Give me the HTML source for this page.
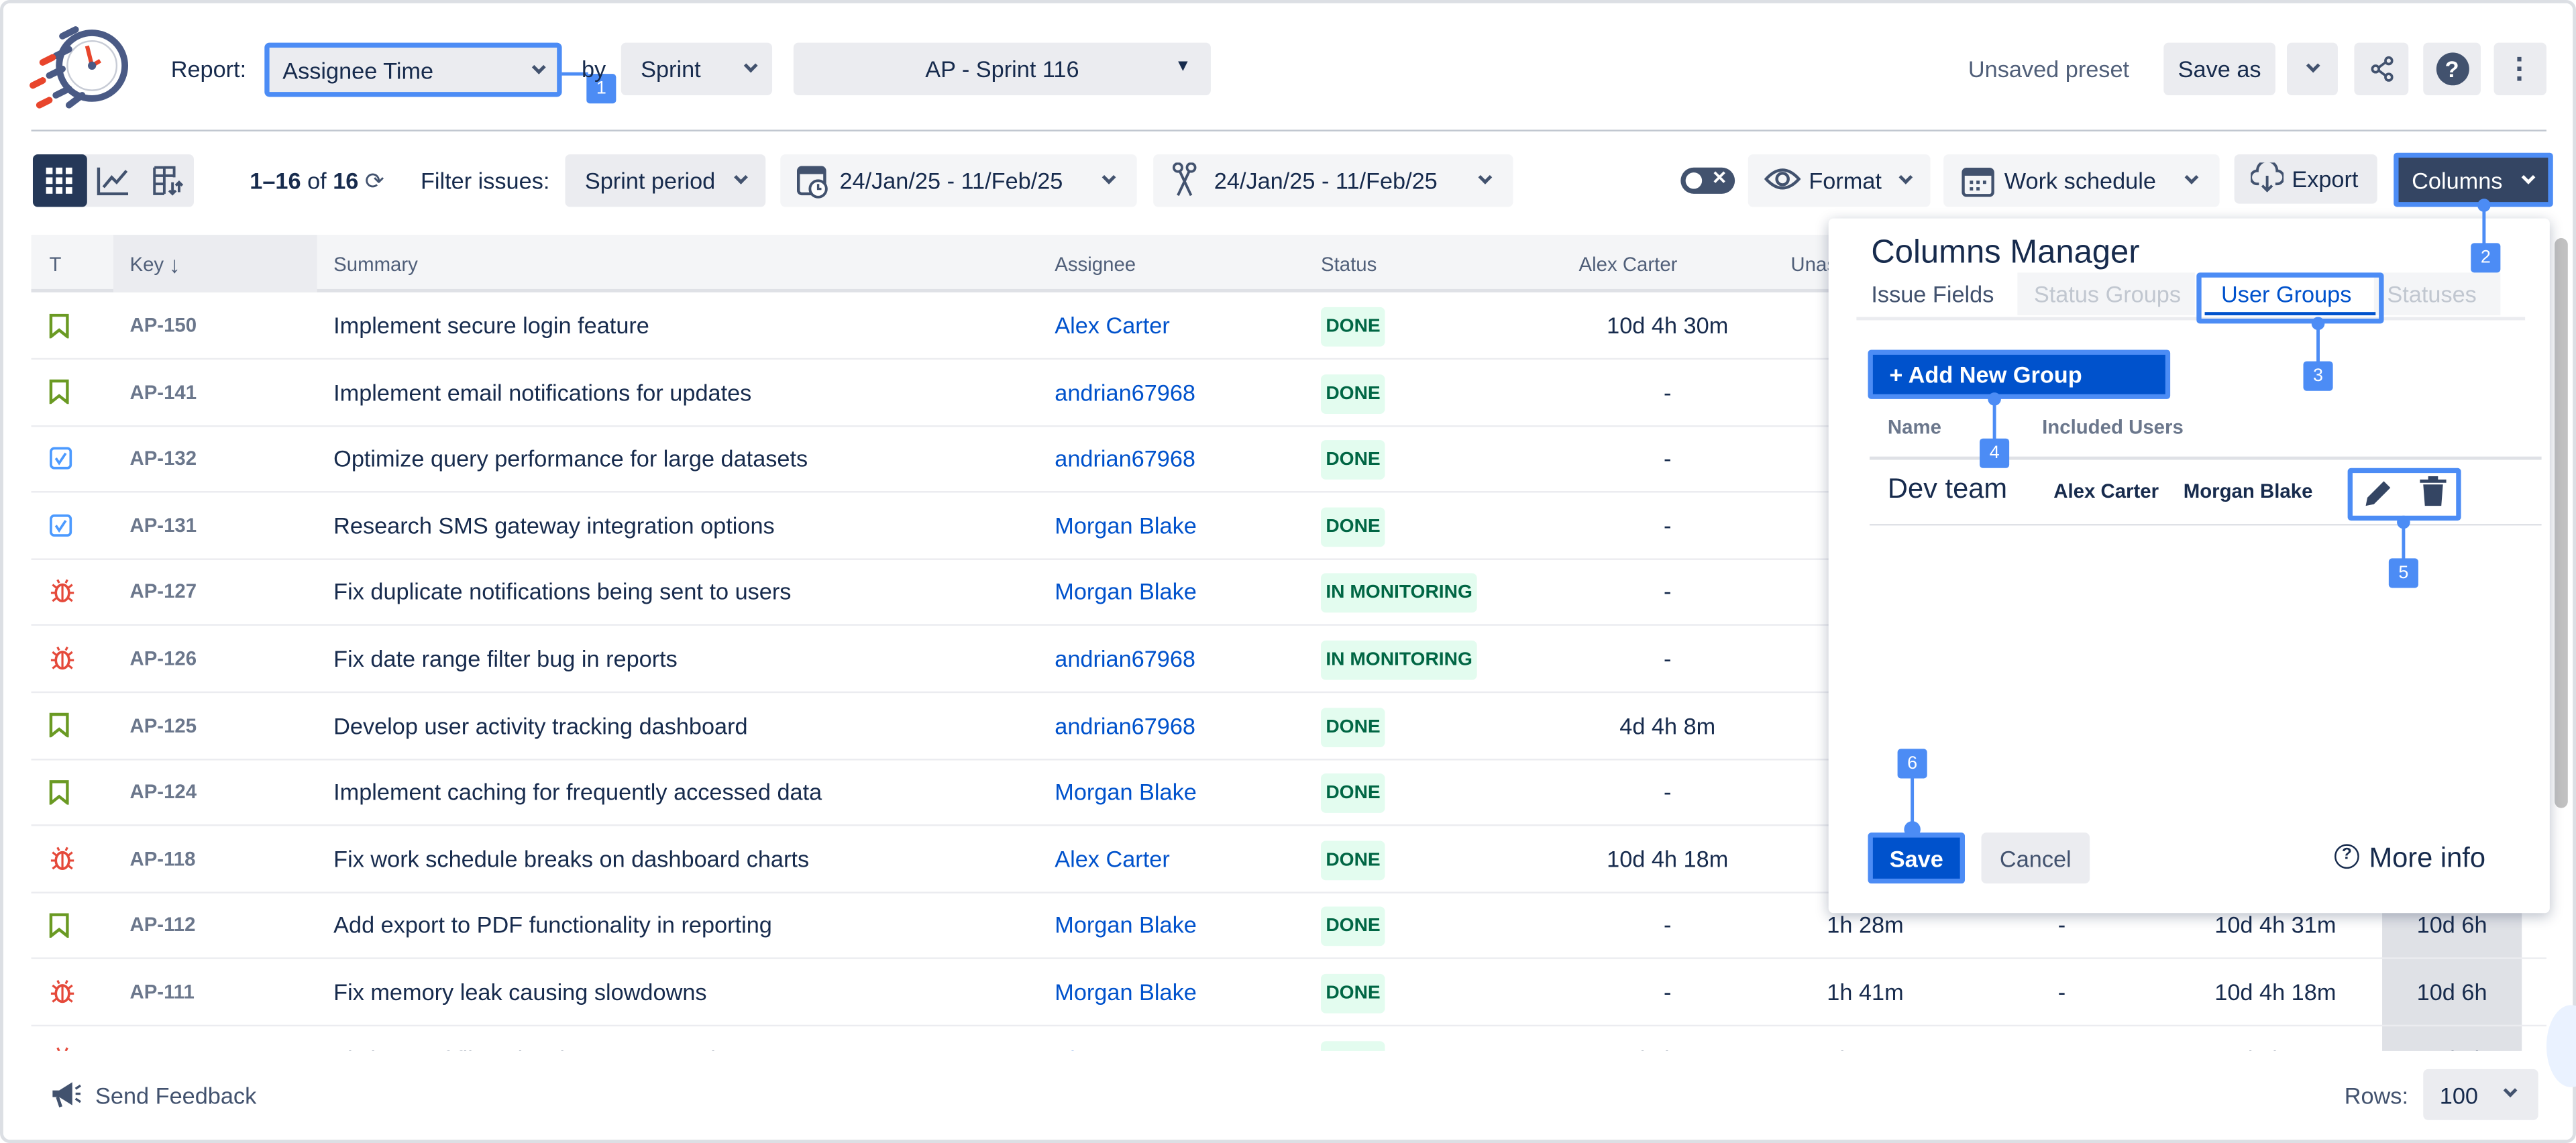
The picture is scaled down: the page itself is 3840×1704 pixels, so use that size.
<!DOCTYPE html>
<html><head><meta charset="utf-8">
<style>
*{box-sizing:border-box;margin:0;padding:0}
html,body{width:3840px;height:1704px;overflow:hidden;background:#fff}
#w{position:absolute;left:0;top:0;width:1568px;height:696px;transform:scale(2.449,2.4483);transform-origin:0 0;font-family:"Liberation Sans",Arial,sans-serif;color:#172b4d;background:#fff}
.a{position:absolute}
.frame{left:0;top:0;width:1568px;height:696px;border:2px solid #dcdfe4;border-radius:6px}
.btn{position:absolute;background:#ebecf0;border-radius:3px;font-size:14px;display:flex;align-items:center;color:#172b4d}
.chev{display:inline-block;width:6px;height:6px;border-right:2px solid #42526e;border-bottom:2px solid #42526e;transform:rotate(45deg);margin-top:-4px}
.btn .chev[style],.a .chev[style]{margin-top:0}
.badge{position:absolute;width:18px;height:18px;background:#4c8cf5;color:#fff;font-size:11px;display:flex;align-items:center;justify-content:center;border-radius:2px}
.vl{position:absolute;width:2px;background:#4c8cf5}
.dot{position:absolute;width:8px;height:8px;border-radius:50%;background:#4c8cf5}
.hl{position:absolute;border:3px solid #4c8cf5;border-radius:2px}
.th{position:absolute;top:143px;height:35px;font-size:12px;color:#505f79;display:flex;align-items:center}
.row{position:absolute;left:19px;width:1531px;height:41px;border-bottom:1px solid #ebecf0}
.row div{position:absolute;top:0;height:40px;display:flex;align-items:center;font-size:14px;white-space:nowrap}
.k{font-size:12px!important;font-weight:bold;color:#6b778c}
.as{color:#0052cc}
.loz{font-size:11.5px!important;font-weight:bold;color:#006644;background:#e3fcef;padding:5px 3px;border-radius:3px;height:auto!important;top:9px!important;line-height:14px}
.c{justify-content:center}
</style></head><body><div id="w">
<div class="a frame"></div>

<svg class="a" style="left:14px;top:14px" width="70" height="60" viewBox="0 0 70 60">
<circle cx="42" cy="26" r="20" fill="none" stroke="#4a5a85" stroke-width="4"/>
<circle cx="42" cy="26" r="15" fill="#fff" stroke="#c8ccd6" stroke-width="1"/>
<line x1="42" y1="26" x2="39" y2="14" stroke="#e8452c" stroke-width="2.5"/>
<line x1="42" y1="26" x2="47" y2="23" stroke="#e8452c" stroke-width="2.5"/>
<circle cx="42" cy="26" r="2.5" fill="#4a5a85"/>
<path d="M24 8 L32 4 M20 20 L28 16 M16 32 L24 28 M20 44 L28 40 M28 50 L36 44" stroke="#4a5a85" stroke-width="4" stroke-linecap="round"/>
<path d="M12 24 L18 21 M6 38 L12 35 M10 50 L16 47" stroke="#e8452c" stroke-width="4" stroke-linecap="round"/>
</svg>

<div class="a" style="left:104px;top:34px;font-size:14px">Report:</div>
<div class="btn" style="left:161px;top:26px;width:181px;height:33px;border:3px solid #4c8cf5;padding-left:8px">Assignee Time<span class="chev" style="position:absolute;right:8px;top:9px"></span></div>
<div class="vl" style="left:342px;top:44px;width:16px;height:2px"></div>
<div class="badge" style="left:357px;top:45px">1</div>
<div class="a" style="left:354px;top:34px;font-size:14px">by</div>
<div class="btn" style="left:378px;top:26px;width:92px;height:32px;padding-left:12px">Sprint<span class="chev" style="position:absolute;right:10px;top:11px"></span></div>
<div class="btn" style="left:483px;top:26px;width:254px;height:32px;justify-content:center">AP - Sprint 116<span style="position:absolute;right:12px;top:9px;font-size:10px">▼</span></div>

<div class="a" style="left:1198px;top:34px;font-size:14px;color:#505f79">Unsaved preset</div>
<div class="btn" style="left:1317px;top:26px;width:68px;height:32px;justify-content:center">Save as</div>
<div class="btn" style="left:1392px;top:26px;width:31px;height:32px;justify-content:center"><span class="chev"></span></div>
<div class="btn" style="left:1433px;top:26px;width:33px;height:32px;justify-content:center">
<svg width="16" height="16" viewBox="0 0 16 16"><circle cx="12" cy="3" r="2" fill="none" stroke="#42526e" stroke-width="1.5"/><circle cx="4" cy="8" r="2" fill="none" stroke="#42526e" stroke-width="1.5"/><circle cx="12" cy="13" r="2" fill="none" stroke="#42526e" stroke-width="1.5"/><path d="M6 7 L10 4 M6 9 L10 12" stroke="#42526e" stroke-width="1.5"/></svg></div>
<div class="btn" style="left:1475px;top:26px;width:35px;height:32px;justify-content:center"><span style="width:20px;height:20px;border-radius:50%;background:#42526e;color:#fff;font-weight:bold;font-size:14px;display:flex;align-items:center;justify-content:center">?</span></div>
<div class="btn" style="left:1518px;top:26px;width:32px;height:32px;justify-content:center;font-weight:bold;font-size:18px;color:#42526e;line-height:6px;flex-direction:column">·<br>·<br>·</div>

<div class="a" style="left:19px;top:79px;width:1531px;height:1px;background:#c1c7d0"></div>

<div class="btn" style="left:20px;top:94px;width:98px;height:32px"></div>
<div class="a" style="left:20px;top:94px;width:33px;height:32px;background:#253858;border-radius:3px"></div>
<svg class="a" style="left:28px;top:102px" width="16" height="16"><g fill="#fff"><rect x="0" y="0" width="4" height="4"/><rect x="6" y="0" width="4" height="4"/><rect x="12" y="0" width="4" height="4"/><rect x="0" y="6" width="4" height="4"/><rect x="6" y="6" width="4" height="4"/><rect x="12" y="6" width="4" height="4"/><rect x="0" y="12" width="4" height="4"/><rect x="6" y="12" width="4" height="4"/><rect x="12" y="12" width="4" height="4"/></g></svg>
<svg class="a" style="left:59px;top:101px" width="20" height="18"><path d="M1 1 V17 H19 M4 13 L9 7 L12 10 L18 3" fill="none" stroke="#42526e" stroke-width="1.8"/></svg>
<svg class="a" style="left:92px;top:100px" width="20" height="20"><path d="M2 2 H14 V8 M2 2 V18 H8 M2 7 H14 M2 12 H8 M8 2 V18 M13 11 V18 M11 16 L13 18 L15 16 M17 17 V11 M15 13 L17 11 L19 13" fill="none" stroke="#42526e" stroke-width="1.6"/></svg>
<div class="a" style="left:152px;top:102px;font-size:14px"><b>1–16</b> of <b>16</b> <span style="color:#42526e">⟳</span></div>
<div class="a" style="left:256px;top:102px;font-size:14px">Filter issues:</div>
<div class="btn" style="left:344px;top:94px;width:122px;height:32px;padding-left:12px">Sprint period<span class="chev" style="position:absolute;right:12px;top:11px"></span></div>
<div class="btn" style="left:475px;top:94px;width:217px;height:32px;padding-left:36px;background:#f4f5f7">24/Jan/25 - 11/Feb/25<span class="chev" style="position:absolute;right:14px;top:11px"></span></div>
<svg class="a" style="left:485px;top:99px" width="20" height="22"><rect x="1" y="3" width="16" height="16" rx="2" fill="none" stroke="#42526e" stroke-width="1.8"/><rect x="1" y="3" width="16" height="4" fill="#42526e"/><circle cx="13" cy="16" r="5" fill="#fff" stroke="#42526e" stroke-width="1.6"/><path d="M13 13 V16 H15" stroke="#42526e" stroke-width="1.4" fill="none"/></svg>
<div class="btn" style="left:702px;top:94px;width:219px;height:32px;padding-left:37px;background:#f4f5f7">24/Jan/25 - 11/Feb/25<span class="chev" style="position:absolute;right:14px;top:11px"></span></div>
<svg class="a" style="left:713px;top:99px" width="16" height="22"><circle cx="4" cy="3" r="2.5" fill="none" stroke="#42526e" stroke-width="1.5"/><circle cx="12" cy="3" r="2.5" fill="none" stroke="#42526e" stroke-width="1.5"/><path d="M5 5 L12 20 M11 5 L4 20" stroke="#42526e" stroke-width="1.6"/></svg>

<div class="a" style="left:1023px;top:102px;width:33px;height:16px;border-radius:8px;background:#42526e"></div>
<div class="a" style="left:1026px;top:105px;width:10px;height:10px;border-radius:50%;background:#fff"></div>
<div class="a" style="left:1042px;top:102px;font-size:11px;color:#fff;font-weight:bold">✕</div>
<div class="btn" style="left:1064px;top:94px;width:111px;height:32px;padding-left:37px;background:#f4f5f7">Format<span class="chev" style="position:absolute;right:12px;top:11px"></span></div>
<svg class="a" style="left:1074px;top:101px" width="22" height="16"><path d="M1 8 Q11 -3 21 8 Q11 19 1 8Z" fill="none" stroke="#42526e" stroke-width="1.8"/><circle cx="11" cy="8" r="3.5" fill="none" stroke="#42526e" stroke-width="1.8"/></svg>
<div class="btn" style="left:1183px;top:94px;width:168px;height:32px;padding-left:37px;background:#f4f5f7">Work schedule<span class="chev" style="position:absolute;right:14px;top:11px"></span></div>
<svg class="a" style="left:1194px;top:100px" width="20" height="20"><rect x="1" y="3" width="18" height="16" rx="2" fill="none" stroke="#42526e" stroke-width="1.8"/><rect x="1" y="3" width="18" height="4" fill="#42526e"/><g fill="#42526e"><rect x="5" y="10" width="2" height="2"/><rect x="9" y="10" width="2" height="2"/><rect x="13" y="10" width="2" height="2"/><rect x="5" y="14" width="2" height="2"/><rect x="9" y="14" width="2" height="2"/></g></svg>
<div class="btn" style="left:1360px;top:94px;width:87px;height:30px;padding-left:35px">Export</div>
<svg class="a" style="left:1370px;top:99px" width="20" height="18"><path d="M5 13 H4 A4 4 0 0 1 4 5 A6 6 0 0 1 16 5 A4 4 0 0 1 16 13 H15 M10 8 V17 M7 14 L10 17 L13 14" fill="none" stroke="#42526e" stroke-width="1.6"/></svg>
<div class="a" style="left:1457px;top:93px;width:97px;height:33px;background:#344563;border:3px solid #4c8cf5;border-radius:2px;color:#fff;font-size:14px;display:flex;align-items:center;padding-left:8px">Columns<span class="chev" style="position:absolute;right:9px;top:9px;border-color:#fff"></span></div>

<div class="a" style="left:19px;top:143px;width:1531px;height:35px;background:#f4f5f7;border-bottom:2px solid #dfe1e6"></div>
<div class="a" style="left:69px;top:143px;width:124px;height:35px;background:#ebecf0"></div>
<div class="th" style="left:30px">T</div>
<div class="th" style="left:79px">Key <b style="font-size:14px;margin-left:3px">↓</b></div>
<div class="th" style="left:203px">Summary</div>
<div class="th" style="left:642px">Assignee</div>
<div class="th" style="left:804px">Status</div>
<div class="th" style="left:961px">Alex Carter</div>
<div class="th" style="left:1090px">Unassigned</div>

<div class="a" style="left:0;top:178px;width:1568px;height:462px;overflow:hidden" id="rows">
<div class="a" style="left:1450px;top:0;width:85px;height:470px;background:#dfe1e6"></div>
</div>

<script>
var B='<svg width="12" height="15"><path d="M1 1 H11 V14 L6 10 L1 14Z" fill="none" stroke="#6a9a23" stroke-width="1.8"/></svg>';
var S='<svg width="14" height="14"><rect x="1" y="1" width="12" height="12" rx="2" fill="none" stroke="#4c9aff" stroke-width="1.5"/><path d="M4 7 L6 10 L10 4" fill="none" stroke="#4c9aff" stroke-width="1.5"/></svg>';
var G='<svg width="16" height="16"><ellipse cx="8" cy="9" rx="4" ry="5" fill="none" stroke="#e5493a" stroke-width="1.5"/><path d="M8 4 V14 M4 9 H1 M12 9 H15 M4.5 6 L2 4 M11.5 6 L14 4 M4.5 12 L2 14 M11.5 12 L14 14 M6 3 L5 1 M10 3 L11 1" stroke="#e5493a" stroke-width="1.3"/></svg>';
var d=[[B,'AP-150','Implement secure login feature','Alex Carter','DONE','10d 4h 30m'],
[B,'AP-141','Implement email notifications for updates','andrian67968','DONE','-'],
[S,'AP-132','Optimize query performance for large datasets','andrian67968','DONE','-'],
[S,'AP-131','Research SMS gateway integration options','Morgan Blake','DONE','-'],
[G,'AP-127','Fix duplicate notifications being sent to users','Morgan Blake','IN MONITORING','-'],
[G,'AP-126','Fix date range filter bug in reports','andrian67968','IN MONITORING','-'],
[B,'AP-125','Develop user activity tracking dashboard','andrian67968','DONE','4d 4h 8m'],
[B,'AP-124','Implement caching for frequently accessed data','Morgan Blake','DONE','-'],
[G,'AP-118','Fix work schedule breaks on dashboard charts','Alex Carter','DONE','10d 4h 18m'],
[B,'AP-112','Add export to PDF functionality in reporting','Morgan Blake','DONE','-','1h 28m','-','10d 4h 31m','10d 6h'],
[G,'AP-111','Fix memory leak causing slowdowns','Morgan Blake','DONE','-','1h 41m','-','10d 4h 18m','10d 6h'],
[G,'AP-110','Fix issue of filter showing empty results','Alex Carter','DONE','10d 4h 18m','1h 41m','-','10d 4h 31m','10d 6h']];
var h='';
d.forEach(function(r,i){
 var t=i*40.6;
 h+='<div class="row" style="top:'+t+'px"><div style="left:11px">'+r[0]+'</div><div class="k" style="left:60px">'+r[1]+'</div><div style="left:184px">'+r[2]+'</div><div class="as" style="left:623px">'+r[3]+'</div><div class="loz" style="left:785px">'+r[4]+'</div><div class="c" style="left:946px;width:100px">'+r[5]+'</div>'+
 (r[6]?'<div style="left:1093px">'+r[6]+'</div><div class="c" style="left:1226px;width:20px">'+r[7]+'</div><div class="c" style="left:1316px;width:100px">'+r[8]+'</div><div class="c" style="left:1431px;width:85px">'+r[9]+'</div>':'')+'</div>';
});
document.getElementById('rows').innerHTML+=h;
</script>

<div class="a" style="left:1555px;top:145px;width:8px;height:347px;background:#c1c1c1;border-radius:4px"></div>
<div class="a" style="left:1550px;top:612px;width:30px;height:50px;border-radius:50%;background:#eaf2ff"></div>

<svg class="a" style="left:30px;top:657px" width="20" height="18"><path d="M2 7 H6 L14 2 V16 L6 11 H2Z" fill="#42526e"/><path d="M5 11 L7 17" stroke="#42526e" stroke-width="2"/><path d="M16 6 L19 4 M16 9 H19 M16 12 L19 14" stroke="#42526e" stroke-width="1.4"/></svg>
<div class="a" style="left:58px;top:659px;font-size:14px;color:#42526e">Send Feedback</div>
<div class="a" style="left:1427px;top:659px;font-size:14px;color:#42526e">Rows:</div>
<div class="btn" style="left:1475px;top:651px;width:70px;height:31px;padding-left:10px">100<span class="chev" style="position:absolute;right:14px;top:10px"></span></div>

<div class="a" style="left:1113px;top:133px;width:439px;height:423px;background:#fff;box-shadow:0 2px 8px rgba(9,30,66,.28);border-radius:3px"></div>
<div class="a" style="left:1139px;top:143px;font-size:20px;color:#172b4d">Columns Manager</div>
<div class="a" style="left:1130px;top:193px;width:407px;height:2px;background:#ebecf0"></div>
<div class="a" style="left:1139px;top:171px;font-size:14px;color:#42526e">Issue Fields</div>
<div class="a" style="left:1228px;top:166px;width:108px;height:26px;background:#f4f5f7"></div>
<div class="a" style="left:1238px;top:171px;font-size:14px;color:#c1c7d0">Status Groups</div>
<div class="a" style="left:1445px;top:166px;width:77px;height:26px;background:#f4f5f7"></div>
<div class="a" style="left:1453px;top:171px;font-size:14px;color:#c1c7d0">Statuses</div>
<div class="hl" style="left:1337px;top:166px;width:114px;height:31px"></div>
<div class="a" style="left:1352px;top:171px;font-size:14px;color:#0052cc">User Groups</div>
<div class="a" style="left:1342px;top:190px;width:104px;height:2px;background:#0052cc"></div>
<div class="vl" style="left:1410px;top:196px;height:26px"></div><div class="dot" style="left:1407px;top:193px"></div>
<div class="badge" style="left:1402px;top:220px">3</div>
<div class="vl" style="left:1511px;top:124px;height:26px"></div><div class="dot" style="left:1508px;top:121px"></div>
<div class="badge" style="left:1504px;top:148px">2</div>

<div class="a" style="left:1137px;top:213px;width:184px;height:30px;background:#0052cc;border:3px solid #4c8cf5;border-radius:2px;color:#fff;font-weight:bold;font-size:14px;padding:4px 0 0 10px">+ Add New Group</div>
<div class="vl" style="left:1213px;top:242px;height:26px"></div><div class="dot" style="left:1210px;top:239px"></div>
<div class="a" style="left:1149px;top:253px;font-size:12px;font-weight:bold;color:#6b778c">Name</div>
<div class="a" style="left:1243px;top:253px;font-size:12px;font-weight:bold;color:#6b778c">Included Users</div>
<div class="a" style="left:1138px;top:278px;width:409px;height:2px;background:#dfe1e6"></div>
<div class="badge" style="left:1205px;top:267px">4</div>
<div class="a" style="left:1149px;top:288px;font-size:17px;color:#172b4d">Dev team</div>
<div class="a" style="left:1250px;top:292px;font-size:12px;font-weight:bold">Alex Carter</div>
<div class="a" style="left:1329px;top:292px;font-size:12px;font-weight:bold">Morgan Blake</div>
<div class="hl" style="left:1429px;top:285px;width:69px;height:32px"></div>
<svg class="a" style="left:1438px;top:290px" width="20" height="20"><path d="M2 18 L3 13 L13 3 L17 7 L7 17Z" fill="#344563"/></svg>
<svg class="a" style="left:1472px;top:289px" width="18" height="20"><path d="M1 3 H17 V5 H1Z M6 1 H12 V3 H6Z M3 6 H15 L14 19 H4Z" fill="#344563"/></svg>
<div class="a" style="left:1138px;top:319px;width:409px;height:1px;background:#dfe1e6"></div>
<div class="vl" style="left:1462px;top:317px;height:25px"></div><div class="dot" style="left:1459px;top:314px"></div>
<div class="badge" style="left:1454px;top:340px">5</div>

<div class="badge" style="left:1155px;top:456px">6</div>
<div class="vl" style="left:1163px;top:473px;height:32px"></div><div class="dot" style="left:1159px;top:500px;width:10px;height:10px"></div>
<div class="a" style="left:1137px;top:507px;width:59px;height:31px;background:#0052cc;border:3px solid #4c8cf5;border-radius:2px;color:#fff;font-weight:bold;font-size:14px;display:flex;align-items:center;justify-content:center">Save</div>
<div class="btn" style="left:1206px;top:507px;width:66px;height:31px;justify-content:center;color:#42526e">Cancel</div>
<div class="a" style="left:1421px;top:514px;width:15px;height:15px;border:1.5px solid #172b4d;border-radius:50%;font-size:10px;font-weight:bold;text-align:center;line-height:12px">?</div>
<div class="a" style="left:1442px;top:513px;font-size:17px">More info</div>
</div></body></html>
